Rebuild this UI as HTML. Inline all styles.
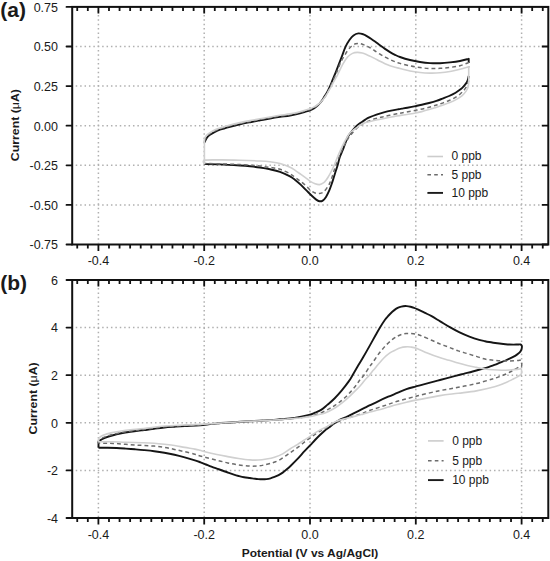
<!DOCTYPE html><html><head><meta charset="utf-8"><style>html,body{margin:0;padding:0;background:#fff;}svg{display:block;}text{font-family:"Liberation Sans",sans-serif;}</style></head><body>
<svg width="550" height="561" viewBox="0 0 550 561">
<line x1="98.40" y1="6.15" x2="98.40" y2="243.50" stroke="#b0b0b0" stroke-width="1.5" fill="none" stroke-dasharray="1.5 2.88"/>
<line x1="204.20" y1="6.15" x2="204.20" y2="243.50" stroke="#b0b0b0" stroke-width="1.5" fill="none" stroke-dasharray="1.5 2.88"/>
<line x1="310.00" y1="6.15" x2="310.00" y2="243.50" stroke="#b0b0b0" stroke-width="1.5" fill="none" stroke-dasharray="1.5 2.88"/>
<line x1="415.80" y1="6.15" x2="415.80" y2="243.50" stroke="#b0b0b0" stroke-width="1.5" fill="none" stroke-dasharray="1.5 2.88"/>
<line x1="521.60" y1="6.15" x2="521.60" y2="243.50" stroke="#b0b0b0" stroke-width="1.5" fill="none" stroke-dasharray="1.5 2.88"/>
<line x1="71.33" y1="46.50" x2="547.30" y2="46.50" stroke="#b0b0b0" stroke-width="1.5" fill="none" stroke-dasharray="1.5 2.903"/>
<line x1="71.33" y1="86.10" x2="547.30" y2="86.10" stroke="#b0b0b0" stroke-width="1.5" fill="none" stroke-dasharray="1.5 2.903"/>
<line x1="71.33" y1="125.70" x2="547.30" y2="125.70" stroke="#b0b0b0" stroke-width="1.5" fill="none" stroke-dasharray="1.5 2.903"/>
<line x1="71.33" y1="165.30" x2="547.30" y2="165.30" stroke="#b0b0b0" stroke-width="1.5" fill="none" stroke-dasharray="1.5 2.903"/>
<line x1="71.33" y1="204.90" x2="547.30" y2="204.90" stroke="#b0b0b0" stroke-width="1.5" fill="none" stroke-dasharray="1.5 2.903"/>
<path d="M204.40,142.50 C204.50,142.28 204.57,142.02 205.00,141.20 C205.43,140.38 206.17,138.67 207.00,137.60 C207.83,136.53 208.67,135.77 210.00,134.80 C211.33,133.83 213.33,132.65 215.00,131.80 C216.67,130.95 217.50,130.53 220.00,129.70 C222.50,128.87 226.67,127.70 230.00,126.80 C233.33,125.90 236.67,125.07 240.00,124.30 C243.33,123.53 246.67,122.87 250.00,122.20 C253.33,121.53 256.67,120.92 260.00,120.30 C263.33,119.68 266.67,119.07 270.00,118.50 C273.33,117.93 276.67,117.40 280.00,116.90 C283.33,116.40 286.67,116.08 290.00,115.50 C293.33,114.92 297.50,114.00 300.00,113.40 C302.50,112.80 303.33,112.40 305.00,111.90 C306.67,111.40 308.45,111.03 310.00,110.40 C311.55,109.77 313.00,108.95 314.30,108.10 C315.60,107.25 316.62,106.45 317.80,105.30 C318.98,104.15 320.30,102.65 321.40,101.20 C322.50,99.75 323.47,98.05 324.40,96.60 C325.33,95.15 326.13,94.07 327.00,92.50 C327.87,90.93 328.68,89.25 329.60,87.20 C330.52,85.15 331.52,82.60 332.50,80.20 C333.48,77.80 334.52,75.27 335.50,72.80 C336.48,70.33 337.37,68.07 338.40,65.40 C339.43,62.73 340.50,59.92 341.70,56.80 C342.90,53.68 344.28,49.53 345.60,46.70 C346.92,43.87 348.28,41.68 349.60,39.80 C350.92,37.92 352.03,36.47 353.50,35.40 C354.97,34.33 356.77,33.58 358.40,33.40 C360.03,33.22 361.83,33.82 363.30,34.30 C364.77,34.78 365.92,35.57 367.20,36.30 C368.48,37.03 369.70,37.83 371.00,38.70 C372.30,39.57 373.50,40.40 375.00,41.50 C376.50,42.60 378.33,44.07 380.00,45.30 C381.67,46.53 383.33,47.77 385.00,48.90 C386.67,50.03 388.33,51.12 390.00,52.10 C391.67,53.08 393.33,53.98 395.00,54.80 C396.67,55.62 397.50,56.13 400.00,57.00 C402.50,57.87 406.67,59.17 410.00,60.00 C413.33,60.83 416.67,61.48 420.00,62.00 C423.33,62.52 426.67,62.90 430.00,63.10 C433.33,63.30 436.67,63.32 440.00,63.20 C443.33,63.08 446.67,62.77 450.00,62.40 C453.33,62.03 456.88,61.60 460.00,61.00 C463.12,60.40 467.25,59.17 468.70,58.80 L468.70,58.80 C468.70,59.50 468.70,62.30 468.70,63.00 M468.70,76.00 C468.65,76.25 468.52,76.95 468.40,77.50 C468.28,78.05 468.27,78.52 468.00,79.30 C467.73,80.08 467.45,81.12 466.80,82.20 C466.15,83.28 465.08,84.65 464.10,85.80 C463.12,86.95 462.32,87.95 460.90,89.10 C459.48,90.25 457.57,91.55 455.60,92.70 C453.63,93.85 451.28,95.02 449.10,96.00 C446.92,96.98 444.62,97.78 442.50,98.60 C440.38,99.42 438.63,100.17 436.40,100.90 C434.17,101.63 431.53,102.35 429.10,103.00 C426.67,103.65 424.05,104.28 421.80,104.80 C419.55,105.32 418.02,105.62 415.60,106.10 C413.18,106.58 409.57,107.28 407.30,107.70 C405.03,108.12 403.48,108.35 402.00,108.60 C400.52,108.85 400.22,108.87 398.40,109.20 C396.58,109.53 393.53,110.07 391.10,110.60 C388.67,111.13 386.23,111.73 383.80,112.40 C381.37,113.07 378.92,113.77 376.50,114.60 C374.08,115.43 371.17,116.57 369.30,117.40 C367.43,118.23 366.60,118.80 365.30,119.60 C364.00,120.40 362.72,121.33 361.50,122.20 C360.28,123.07 359.08,123.90 358.00,124.80 C356.92,125.70 356.00,126.57 355.00,127.60 C354.00,128.63 353.17,129.52 352.00,131.00 C350.83,132.48 349.07,134.62 348.00,136.50 C346.93,138.38 346.47,140.05 345.60,142.30 C344.73,144.55 343.78,147.47 342.80,150.00 C341.82,152.53 340.55,155.00 339.70,157.50 C338.85,160.00 338.38,162.67 337.70,165.00 C337.02,167.33 336.28,169.33 335.60,171.50 C334.92,173.67 334.28,175.83 333.60,178.00 C332.92,180.17 332.22,182.43 331.50,184.50 C330.78,186.57 330.22,188.33 329.30,190.40 C328.38,192.47 327.10,195.20 326.00,196.90 C324.90,198.60 323.78,199.88 322.70,200.60 C321.62,201.32 320.58,201.37 319.50,201.20 C318.42,201.03 317.48,200.50 316.20,199.60 C314.92,198.70 313.43,197.33 311.80,195.80 C310.17,194.27 308.22,192.22 306.40,190.40 C304.58,188.58 302.72,186.60 300.90,184.90 C299.08,183.20 297.32,181.62 295.50,180.20 C293.68,178.78 292.58,177.78 290.00,176.40 C287.42,175.02 283.33,173.08 280.00,171.90 C276.67,170.72 273.33,170.03 270.00,169.30 C266.67,168.57 263.33,168.00 260.00,167.50 C256.67,167.00 253.33,166.63 250.00,166.30 C246.67,165.97 245.00,165.82 240.00,165.50 C235.00,165.18 225.93,164.63 220.00,164.40 C214.07,164.17 207.00,164.15 204.40,164.10" stroke="#151515" stroke-width="1.9" fill="none" stroke-linejoin="round"/><path d="M204.40,140.80 C204.50,140.60 204.57,140.37 205.00,139.60 C205.43,138.83 206.17,137.18 207.00,136.20 C207.83,135.22 208.67,134.60 210.00,133.70 C211.33,132.80 213.33,131.62 215.00,130.80 C216.67,129.98 217.50,129.62 220.00,128.80 C222.50,127.98 226.67,126.78 230.00,125.90 C233.33,125.02 236.67,124.25 240.00,123.50 C243.33,122.75 246.67,122.07 250.00,121.40 C253.33,120.73 256.67,120.12 260.00,119.50 C263.33,118.88 266.67,118.28 270.00,117.70 C273.33,117.12 276.67,116.52 280.00,116.00 C283.33,115.48 286.67,115.18 290.00,114.60 C293.33,114.02 296.67,113.33 300.00,112.50 C303.33,111.67 307.50,110.48 310.00,109.60 C312.50,108.72 313.33,108.23 315.00,107.20 C316.67,106.17 318.33,105.12 320.00,103.40 C321.67,101.68 323.58,99.05 325.00,96.90 C326.42,94.75 327.33,92.82 328.50,90.50 C329.67,88.18 330.83,85.53 332.00,83.00 C333.17,80.47 334.47,77.70 335.50,75.30 C336.53,72.90 337.33,70.75 338.20,68.60 C339.07,66.45 339.70,64.50 340.70,62.40 C341.70,60.30 343.05,57.97 344.20,56.00 C345.35,54.03 346.38,52.23 347.60,50.60 C348.82,48.97 350.18,47.33 351.50,46.20 C352.82,45.07 354.18,44.25 355.50,43.80 C356.82,43.35 358.10,43.37 359.40,43.50 C360.70,43.63 362.00,44.13 363.30,44.60 C364.60,45.07 365.92,45.67 367.20,46.30 C368.48,46.93 369.70,47.62 371.00,48.40 C372.30,49.18 373.50,50.03 375.00,51.00 C376.50,51.97 378.33,53.20 380.00,54.20 C381.67,55.20 383.33,56.10 385.00,57.00 C386.67,57.90 388.33,58.82 390.00,59.60 C391.67,60.38 393.33,61.07 395.00,61.70 C396.67,62.33 397.50,62.70 400.00,63.40 C402.50,64.10 406.67,65.20 410.00,65.90 C413.33,66.60 416.67,67.17 420.00,67.60 C423.33,68.03 426.67,68.38 430.00,68.50 C433.33,68.62 436.67,68.48 440.00,68.30 C443.33,68.12 446.67,67.83 450.00,67.40 C453.33,66.97 456.88,66.50 460.00,65.70 C463.12,64.90 467.25,63.12 468.70,62.60 L468.70,62.60 C468.70,63.42 468.70,66.68 468.70,67.50 M468.70,80.50 C468.60,80.83 468.42,81.62 468.10,82.50 C467.78,83.38 467.47,84.53 466.80,85.80 C466.13,87.07 465.20,88.73 464.10,90.10 C463.00,91.47 461.72,92.75 460.20,94.00 C458.68,95.25 456.85,96.52 455.00,97.60 C453.15,98.68 451.18,99.58 449.10,100.50 C447.02,101.42 444.47,102.38 442.50,103.10 C440.53,103.82 439.05,104.23 437.30,104.80 C435.55,105.37 434.10,105.90 432.00,106.50 C429.90,107.10 427.25,107.80 424.70,108.40 C422.15,109.00 419.48,109.53 416.70,110.10 C413.92,110.67 410.55,111.32 408.00,111.80 C405.45,112.28 403.25,112.67 401.40,113.00 C399.55,113.33 398.87,113.42 396.90,113.80 C394.93,114.18 391.78,114.83 389.60,115.30 C387.42,115.77 385.62,116.18 383.80,116.60 C381.98,117.02 380.52,117.33 378.70,117.80 C376.88,118.27 374.72,118.80 372.90,119.40 C371.08,120.00 369.28,120.77 367.80,121.40 C366.32,122.03 365.22,122.55 364.00,123.20 C362.78,123.85 361.67,124.50 360.50,125.30 C359.33,126.10 358.17,126.97 357.00,128.00 C355.83,129.03 354.67,130.20 353.50,131.50 C352.33,132.80 351.00,134.47 350.00,135.80 C349.00,137.13 348.33,138.13 347.50,139.50 C346.67,140.87 346.03,142.00 345.00,144.00 C343.97,146.00 342.38,149.08 341.30,151.50 C340.22,153.92 339.42,156.20 338.50,158.50 C337.58,160.80 336.58,163.13 335.80,165.30 C335.02,167.47 334.43,169.50 333.80,171.50 C333.17,173.50 332.63,175.47 332.00,177.30 C331.37,179.13 330.63,181.05 330.00,182.50 C329.37,183.95 329.23,184.45 328.20,186.00 C327.17,187.55 325.25,190.55 323.80,191.80 C322.35,193.05 320.95,193.30 319.50,193.50 C318.05,193.70 316.57,193.52 315.10,193.00 C313.63,192.48 312.15,191.53 310.70,190.40 C309.25,189.27 308.03,187.67 306.40,186.20 C304.77,184.73 302.72,183.03 300.90,181.60 C299.08,180.17 297.32,178.90 295.50,177.60 C293.68,176.30 292.58,175.18 290.00,173.80 C287.42,172.42 283.33,170.37 280.00,169.30 C276.67,168.23 273.33,167.93 270.00,167.40 C266.67,166.87 263.33,166.47 260.00,166.10 C256.67,165.73 253.33,165.45 250.00,165.20 C246.67,164.95 245.00,164.82 240.00,164.60 C235.00,164.38 225.93,164.08 220.00,163.90 C214.07,163.72 207.00,163.57 204.40,163.50" stroke="#6c6c6c" stroke-width="1.5" stroke-dasharray="3.9 3.0" fill="none" stroke-linejoin="round"/><path d="M204.40,164.20 C204.40,160.00 204.40,143.20 204.40,139.00 L204.40,139.00 C204.50,138.77 204.57,138.30 205.00,137.60 C205.43,136.90 206.17,135.63 207.00,134.80 C207.83,133.97 208.67,133.43 210.00,132.60 C211.33,131.77 213.33,130.57 215.00,129.80 C216.67,129.03 217.50,128.80 220.00,128.00 C222.50,127.20 226.67,125.90 230.00,125.00 C233.33,124.10 236.67,123.33 240.00,122.60 C243.33,121.87 246.67,121.23 250.00,120.60 C253.33,119.97 256.67,119.40 260.00,118.80 C263.33,118.20 266.67,117.58 270.00,117.00 C273.33,116.42 276.67,115.82 280.00,115.30 C283.33,114.78 286.67,114.50 290.00,113.90 C293.33,113.30 296.67,112.55 300.00,111.70 C303.33,110.85 307.50,109.68 310.00,108.80 C312.50,107.92 313.33,107.38 315.00,106.40 C316.67,105.42 318.33,104.47 320.00,102.90 C321.67,101.33 323.40,99.25 325.00,97.00 C326.60,94.75 328.10,92.03 329.60,89.40 C331.10,86.77 332.63,83.72 334.00,81.20 C335.37,78.68 336.35,77.12 337.80,74.30 C339.25,71.48 341.07,67.18 342.70,64.30 C344.33,61.42 345.97,58.82 347.60,57.00 C349.23,55.18 350.87,54.17 352.50,53.40 C354.13,52.63 355.77,52.45 357.40,52.40 C359.03,52.35 360.67,52.68 362.30,53.10 C363.93,53.52 365.75,54.32 367.20,54.90 C368.65,55.48 369.70,55.98 371.00,56.60 C372.30,57.22 373.50,57.82 375.00,58.60 C376.50,59.38 378.33,60.45 380.00,61.30 C381.67,62.15 383.33,62.97 385.00,63.70 C386.67,64.43 388.33,65.10 390.00,65.70 C391.67,66.30 393.33,66.83 395.00,67.30 C396.67,67.77 397.50,67.88 400.00,68.50 C402.50,69.12 406.67,70.33 410.00,71.00 C413.33,71.67 416.67,72.15 420.00,72.50 C423.33,72.85 426.67,73.05 430.00,73.10 C433.33,73.15 436.67,73.07 440.00,72.80 C443.33,72.53 446.67,72.10 450.00,71.50 C453.33,70.90 456.88,69.98 460.00,69.20 C463.12,68.42 467.25,67.20 468.70,66.80 L468.70,66.80 C468.70,69.42 468.70,79.88 468.70,82.50 L468.70,82.50 C468.60,83.27 468.53,85.67 468.10,87.10 C467.67,88.53 467.08,89.68 466.10,91.10 C465.12,92.52 463.95,94.13 462.20,95.60 C460.45,97.07 457.78,98.70 455.60,99.90 C453.42,101.10 451.28,101.92 449.10,102.80 C446.92,103.68 444.68,104.43 442.50,105.20 C440.32,105.97 438.23,106.67 436.00,107.40 C433.77,108.13 431.47,108.90 429.10,109.60 C426.73,110.30 424.23,111.00 421.80,111.60 C419.37,112.20 416.80,112.75 414.50,113.20 C412.20,113.65 410.08,113.98 408.00,114.30 C405.92,114.62 404.22,114.75 402.00,115.10 C399.78,115.45 397.12,115.95 394.70,116.40 C392.28,116.85 389.92,117.32 387.50,117.80 C385.08,118.28 382.63,118.80 380.20,119.30 C377.77,119.80 375.33,120.25 372.90,120.80 C370.47,121.35 367.75,121.85 365.60,122.60 C363.45,123.35 361.60,124.37 360.00,125.30 C358.40,126.23 357.25,127.28 356.00,128.20 C354.75,129.12 353.58,129.92 352.50,130.80 C351.42,131.68 350.75,131.80 349.50,133.50 C348.25,135.20 346.50,138.25 345.00,141.00 C343.50,143.75 341.80,147.20 340.50,150.00 C339.20,152.80 338.23,155.30 337.20,157.80 C336.17,160.30 335.30,162.72 334.30,165.00 C333.30,167.28 332.22,169.50 331.20,171.50 C330.18,173.50 329.07,175.55 328.20,177.00 C327.33,178.45 326.73,179.27 326.00,180.20 C325.27,181.13 324.88,181.87 323.80,182.60 C322.72,183.33 320.95,184.40 319.50,184.60 C318.05,184.80 316.57,184.30 315.10,183.80 C313.63,183.30 312.15,182.50 310.70,181.60 C309.25,180.70 308.03,179.60 306.40,178.40 C304.77,177.20 302.72,175.70 300.90,174.40 C299.08,173.10 297.32,171.80 295.50,170.60 C293.68,169.40 292.58,168.40 290.00,167.20 C287.42,166.00 283.33,164.30 280.00,163.40 C276.67,162.50 273.33,162.20 270.00,161.80 C266.67,161.40 265.00,161.27 260.00,161.00 C255.00,160.73 246.67,160.38 240.00,160.20 C233.33,160.02 225.93,159.88 220.00,159.90 C214.07,159.92 207.00,159.58 204.40,160.30 C201.80,161.02 204.40,163.55 204.40,164.20" stroke="#d0d0d0" stroke-width="1.6" fill="none" stroke-linejoin="round"/>
<rect x="72.20" y="6.90" width="476.10" height="237.60" fill="none" stroke="#111" stroke-width="2"/>
<path d="M77.24,6.90v4.00 M77.24,244.50v4.00 M87.82,6.90v4.00 M87.82,244.50v4.00 M98.40,6.90v6.50 M98.40,244.50v6.50 M108.98,6.90v4.00 M108.98,244.50v4.00 M119.56,6.90v4.00 M119.56,244.50v4.00 M130.14,6.90v4.00 M130.14,244.50v4.00 M140.72,6.90v4.00 M140.72,244.50v4.00 M151.30,6.90v4.00 M151.30,244.50v4.00 M161.88,6.90v4.00 M161.88,244.50v4.00 M172.46,6.90v4.00 M172.46,244.50v4.00 M183.04,6.90v4.00 M183.04,244.50v4.00 M193.62,6.90v4.00 M193.62,244.50v4.00 M204.20,6.90v6.50 M204.20,244.50v6.50 M214.78,6.90v4.00 M214.78,244.50v4.00 M225.36,6.90v4.00 M225.36,244.50v4.00 M235.94,6.90v4.00 M235.94,244.50v4.00 M246.52,6.90v4.00 M246.52,244.50v4.00 M257.10,6.90v4.00 M257.10,244.50v4.00 M267.68,6.90v4.00 M267.68,244.50v4.00 M278.26,6.90v4.00 M278.26,244.50v4.00 M288.84,6.90v4.00 M288.84,244.50v4.00 M299.42,6.90v4.00 M299.42,244.50v4.00 M310.00,6.90v6.50 M310.00,244.50v6.50 M320.58,6.90v4.00 M320.58,244.50v4.00 M331.16,6.90v4.00 M331.16,244.50v4.00 M341.74,6.90v4.00 M341.74,244.50v4.00 M352.32,6.90v4.00 M352.32,244.50v4.00 M362.90,6.90v4.00 M362.90,244.50v4.00 M373.48,6.90v4.00 M373.48,244.50v4.00 M384.06,6.90v4.00 M384.06,244.50v4.00 M394.64,6.90v4.00 M394.64,244.50v4.00 M405.22,6.90v4.00 M405.22,244.50v4.00 M415.80,6.90v6.50 M415.80,244.50v6.50 M426.38,6.90v4.00 M426.38,244.50v4.00 M436.96,6.90v4.00 M436.96,244.50v4.00 M447.54,6.90v4.00 M447.54,244.50v4.00 M458.12,6.90v4.00 M458.12,244.50v4.00 M468.70,6.90v4.00 M468.70,244.50v4.00 M479.28,6.90v4.00 M479.28,244.50v4.00 M489.86,6.90v4.00 M489.86,244.50v4.00 M500.44,6.90v4.00 M500.44,244.50v4.00 M511.02,6.90v4.00 M511.02,244.50v4.00 M521.60,6.90v6.50 M521.60,244.50v6.50 M532.18,6.90v4.00 M532.18,244.50v4.00 M542.76,6.90v4.00 M542.76,244.50v4.00 M548.30,6.90h-6.50 M548.30,46.50h-6.50 M548.30,86.10h-6.50 M548.30,125.70h-6.50 M548.30,165.30h-6.50 M548.30,204.90h-6.50 M548.30,244.50h-6.50" stroke="#111" stroke-width="1.8" fill="none"/>
<path d="M72.20,6.90h-5.70 M72.20,46.50h-5.70 M72.20,86.10h-5.70 M72.20,125.70h-5.70 M72.20,165.30h-5.70 M72.20,204.90h-5.70 M72.20,244.50h-5.70" stroke="#111" stroke-width="1.8" fill="none" stroke-linecap="round"/>
<text x="58" y="11.70" font-size="12.5" text-anchor="end" fill="#1a1a1a">0.75</text>
<text x="58" y="51.30" font-size="12.5" text-anchor="end" fill="#1a1a1a">0.50</text>
<text x="58" y="90.90" font-size="12.5" text-anchor="end" fill="#1a1a1a">0.25</text>
<text x="58" y="130.50" font-size="12.5" text-anchor="end" fill="#1a1a1a">0.00</text>
<text x="58" y="170.10" font-size="12.5" text-anchor="end" fill="#1a1a1a">-0.25</text>
<text x="58" y="209.70" font-size="12.5" text-anchor="end" fill="#1a1a1a">-0.50</text>
<text x="58" y="249.30" font-size="12.5" text-anchor="end" fill="#1a1a1a">-0.75</text>
<text x="98.40" y="265.00" font-size="12.5" text-anchor="middle" fill="#1a1a1a">-0.4</text>
<text x="204.20" y="265.00" font-size="12.5" text-anchor="middle" fill="#1a1a1a">-0.2</text>
<text x="310.00" y="265.00" font-size="12.5" text-anchor="middle" fill="#1a1a1a">0.0</text>
<text x="415.80" y="265.00" font-size="12.5" text-anchor="middle" fill="#1a1a1a">0.2</text>
<text x="521.60" y="265.00" font-size="12.5" text-anchor="middle" fill="#1a1a1a">0.4</text>
<text transform="translate(19.40,125.10) rotate(-90) scale(1.045,1)" font-size="11.8" font-weight="bold" text-anchor="middle" fill="#1a1a1a">Current (<tspan font-weight="normal">&#956;</tspan>A)</text>
<text x="0.3" y="16.70" font-size="21" font-weight="bold" fill="#1a1a1a">(a)</text>
<line x1="427.40" y1="156.50" x2="443.00" y2="156.50" stroke="#cccccc" stroke-width="1.6"/>
<line x1="427.40" y1="174.80" x2="443.00" y2="174.80" stroke="#6c6c6c" stroke-width="1.5" stroke-dasharray="3.6 3.2"/>
<line x1="427.40" y1="192.90" x2="443.00" y2="192.90" stroke="#1a1a1a" stroke-width="1.9"/>
<text x="451.50" y="160.40" font-size="12" fill="#1a1a1a">0 ppb</text>
<text x="451.50" y="178.70" font-size="12" fill="#1a1a1a">5 ppb</text>
<text x="451.50" y="196.80" font-size="12" fill="#1a1a1a">10 ppb</text>
<line x1="98.40" y1="279.25" x2="98.40" y2="517.00" stroke="#b0b0b0" stroke-width="1.5" fill="none" stroke-dasharray="1.5 2.88"/>
<line x1="204.20" y1="279.25" x2="204.20" y2="517.00" stroke="#b0b0b0" stroke-width="1.5" fill="none" stroke-dasharray="1.5 2.88"/>
<line x1="310.00" y1="279.25" x2="310.00" y2="517.00" stroke="#b0b0b0" stroke-width="1.5" fill="none" stroke-dasharray="1.5 2.88"/>
<line x1="415.80" y1="279.25" x2="415.80" y2="517.00" stroke="#b0b0b0" stroke-width="1.5" fill="none" stroke-dasharray="1.5 2.88"/>
<line x1="521.60" y1="279.25" x2="521.60" y2="517.00" stroke="#b0b0b0" stroke-width="1.5" fill="none" stroke-dasharray="1.5 2.88"/>
<line x1="71.33" y1="327.60" x2="547.30" y2="327.60" stroke="#b0b0b0" stroke-width="1.5" fill="none" stroke-dasharray="1.5 2.903"/>
<line x1="71.33" y1="375.20" x2="547.30" y2="375.20" stroke="#b0b0b0" stroke-width="1.5" fill="none" stroke-dasharray="1.5 2.903"/>
<line x1="71.33" y1="422.80" x2="547.30" y2="422.80" stroke="#b0b0b0" stroke-width="1.5" fill="none" stroke-dasharray="1.5 2.903"/>
<line x1="71.33" y1="470.40" x2="547.30" y2="470.40" stroke="#b0b0b0" stroke-width="1.5" fill="none" stroke-dasharray="1.5 2.903"/>
<path d="M98.50,447.70 C98.50,446.67 98.50,442.53 98.50,441.50 L98.50,441.50 C98.97,441.18 100.23,440.20 101.30,439.60 C102.37,439.00 103.08,438.58 104.90,437.90 C106.72,437.22 109.47,436.27 112.20,435.50 C114.93,434.73 118.27,433.93 121.30,433.30 C124.33,432.67 127.37,432.17 130.40,431.70 C133.43,431.23 137.23,430.77 139.50,430.50 C141.77,430.23 141.55,430.40 144.00,430.10 C146.45,429.80 150.80,429.13 154.20,428.70 C157.60,428.27 161.02,427.83 164.40,427.50 C167.78,427.17 171.12,426.95 174.50,426.70 C177.88,426.45 180.45,426.25 184.70,426.00 C188.95,425.75 194.87,425.60 200.00,425.20 C205.13,424.80 208.68,424.17 215.50,423.60 C222.32,423.03 232.42,422.33 240.90,421.80 C249.38,421.27 259.88,420.82 266.40,420.40 C272.92,419.98 275.32,419.70 280.00,419.30 C284.68,418.90 289.65,418.73 294.50,418.00 C299.35,417.27 305.68,415.78 309.10,414.90 C312.52,414.02 312.93,413.58 315.00,412.70 C317.07,411.82 319.45,410.90 321.50,409.60 C323.55,408.30 325.13,406.75 327.30,404.90 C329.47,403.05 332.08,400.92 334.50,398.50 C336.92,396.08 339.37,393.33 341.80,390.40 C344.23,387.47 347.33,383.38 349.10,380.90 C350.87,378.42 350.82,378.18 352.40,375.50 C353.98,372.82 356.72,368.00 358.60,364.80 C360.48,361.60 361.88,359.42 363.70,356.30 C365.52,353.18 367.55,349.57 369.50,346.10 C371.45,342.63 373.70,338.53 375.40,335.50 C377.10,332.47 378.10,330.53 379.70,327.90 C381.30,325.27 383.52,321.77 385.00,319.70 C386.48,317.63 387.38,316.82 388.60,315.50 C389.82,314.18 391.08,312.90 392.30,311.80 C393.52,310.70 394.70,309.68 395.90,308.90 C397.10,308.12 398.28,307.55 399.50,307.10 C400.72,306.65 401.98,306.37 403.20,306.20 C404.42,306.03 405.58,306.02 406.80,306.10 C408.02,306.18 409.28,306.42 410.50,306.70 C411.72,306.98 412.90,307.37 414.10,307.80 C415.30,308.23 416.48,308.75 417.70,309.30 C418.92,309.85 420.18,310.50 421.40,311.10 C422.62,311.70 423.30,312.05 425.00,312.90 C426.70,313.75 429.07,314.78 431.60,316.20 C434.13,317.62 437.17,319.57 440.20,321.40 C443.23,323.23 446.57,325.37 449.80,327.20 C453.03,329.03 456.33,330.83 459.60,332.40 C462.87,333.97 466.13,335.35 469.40,336.60 C472.67,337.85 476.60,339.13 479.20,339.90 C481.80,340.67 483.35,340.85 485.00,341.20 C486.65,341.55 487.73,341.75 489.10,342.00 C490.47,342.25 491.83,342.48 493.20,342.70 C494.57,342.92 495.93,343.12 497.30,343.30 C498.67,343.48 500.03,343.65 501.40,343.80 C502.77,343.95 504.15,344.08 505.50,344.20 C506.85,344.32 508.15,344.43 509.50,344.50 C510.85,344.57 512.23,344.60 513.60,344.60 C514.97,344.60 516.53,344.52 517.70,344.50 C518.87,344.48 519.92,344.28 520.60,344.50 C521.28,344.72 521.60,345.20 521.80,345.80 C522.00,346.40 521.93,347.32 521.80,348.10 C521.67,348.88 521.40,349.75 521.00,350.50 C520.60,351.25 520.08,351.92 519.40,352.60 C518.72,353.28 517.87,353.92 516.90,354.60 C515.93,355.28 514.83,356.02 513.60,356.70 C512.37,357.38 510.85,358.07 509.50,358.70 C508.15,359.33 506.85,359.92 505.50,360.50 C504.15,361.08 502.77,361.65 501.40,362.20 C500.03,362.75 498.67,363.28 497.30,363.80 C495.93,364.32 494.57,364.80 493.20,365.30 C491.83,365.80 490.47,366.33 489.10,366.80 C487.73,367.27 487.73,367.32 485.00,368.10 C482.27,368.88 476.27,370.55 472.70,371.50 C469.13,372.45 466.63,373.02 463.60,373.80 C460.57,374.58 458.43,375.17 454.50,376.20 C450.57,377.23 444.53,378.80 440.00,380.00 C435.47,381.20 430.63,382.52 427.30,383.40 C423.97,384.28 421.97,384.77 420.00,385.30 C418.03,385.83 417.77,385.97 415.50,386.60 C413.23,387.23 409.43,388.05 406.40,389.10 C403.37,390.15 400.33,391.63 397.30,392.90 C394.27,394.17 391.23,395.38 388.20,396.70 C385.17,398.02 382.13,399.38 379.10,400.80 C376.07,402.22 372.35,404.05 370.00,405.20 C367.65,406.35 366.80,406.80 365.00,407.70 C363.20,408.60 361.02,409.68 359.20,410.60 C357.38,411.52 355.92,412.28 354.10,413.20 C352.28,414.12 350.12,415.25 348.30,416.10 C346.48,416.95 344.90,417.52 343.20,418.30 C341.50,419.08 339.68,419.90 338.10,420.80 C336.52,421.70 335.17,422.63 333.70,423.70 C332.23,424.77 330.77,426.07 329.30,427.20 C327.83,428.33 326.37,429.28 324.90,430.50 C323.43,431.72 322.07,433.00 320.50,434.50 C318.93,436.00 317.25,437.68 315.50,439.50 C313.75,441.32 311.83,443.45 310.00,445.40 C308.17,447.35 306.62,448.90 304.50,451.20 C302.38,453.50 299.55,456.82 297.30,459.20 C295.05,461.58 292.75,463.82 291.00,465.50 C289.25,467.18 288.18,468.12 286.80,469.30 C285.42,470.48 284.07,471.63 282.70,472.60 C281.33,473.57 279.97,474.38 278.60,475.10 C277.23,475.82 275.85,476.37 274.50,476.90 C273.15,477.43 271.85,477.93 270.50,478.30 C269.15,478.67 267.77,478.93 266.40,479.10 C265.03,479.27 263.67,479.30 262.30,479.30 C260.93,479.30 259.57,479.22 258.20,479.10 C256.83,478.98 255.47,478.78 254.10,478.60 C252.73,478.42 251.67,478.22 250.00,478.00 C248.33,477.78 246.00,477.63 244.10,477.30 C242.20,476.97 240.42,476.48 238.60,476.00 C236.78,475.52 235.02,474.98 233.20,474.40 C231.38,473.82 229.52,473.15 227.70,472.50 C225.88,471.85 224.12,471.15 222.30,470.50 C220.48,469.85 218.62,469.23 216.80,468.60 C214.98,467.97 213.22,467.38 211.40,466.70 C209.58,466.02 207.72,465.23 205.90,464.50 C204.08,463.77 202.33,463.00 200.50,462.30 C198.67,461.60 197.53,461.13 194.90,460.30 C192.27,459.47 188.10,458.23 184.70,457.30 C181.30,456.37 177.88,455.47 174.50,454.70 C171.12,453.93 167.78,453.28 164.40,452.70 C161.02,452.12 157.60,451.63 154.20,451.20 C150.80,450.77 147.22,450.42 144.00,450.10 C140.78,449.78 137.93,449.55 134.90,449.30 C131.87,449.05 128.83,448.82 125.80,448.60 C122.77,448.38 119.73,448.15 116.70,448.00 C113.67,447.85 110.63,447.75 107.60,447.70 C104.57,447.65 100.02,447.70 98.50,447.70" stroke="#151515" stroke-width="1.9" fill="none" stroke-linejoin="round"/><path d="M98.50,443.20 C98.50,442.83 98.50,441.37 98.50,441.00 L98.50,441.00 C98.97,440.60 100.23,439.28 101.30,438.60 C102.37,437.92 103.08,437.58 104.90,436.90 C106.72,436.22 109.47,435.23 112.20,434.50 C114.93,433.77 118.27,433.08 121.30,432.50 C124.33,431.92 126.62,431.50 130.40,431.00 C134.18,430.50 138.33,430.20 144.00,429.50 C149.67,428.80 157.62,427.47 164.40,426.80 C171.18,426.13 178.77,425.83 184.70,425.50 C190.63,425.17 190.63,425.42 200.00,424.80 C209.37,424.18 229.83,422.53 240.90,421.80 C251.97,421.07 257.47,420.98 266.40,420.40 C275.33,419.82 287.38,418.98 294.50,418.30 C301.62,417.62 304.85,417.15 309.10,416.30 C313.35,415.45 316.60,414.48 320.00,413.20 C323.40,411.92 326.95,409.93 329.50,408.60 C332.05,407.27 333.37,406.48 335.30,405.20 C337.23,403.92 339.23,402.40 341.10,400.90 C342.97,399.40 344.75,397.90 346.50,396.20 C348.25,394.50 349.95,392.58 351.60,390.70 C353.25,388.82 355.07,386.63 356.40,384.90 C357.73,383.17 358.32,381.95 359.60,380.30 C360.88,378.65 362.45,377.25 364.10,375.00 C365.75,372.75 368.05,368.88 369.50,366.80 C370.95,364.72 371.47,364.38 372.80,362.50 C374.13,360.62 375.92,357.68 377.50,355.50 C379.08,353.32 380.65,351.33 382.30,349.40 C383.95,347.47 385.65,345.60 387.40,343.90 C389.15,342.20 391.13,340.48 392.80,339.20 C394.47,337.92 395.92,337.00 397.40,336.20 C398.88,335.40 400.25,334.85 401.70,334.40 C403.15,333.95 404.63,333.65 406.10,333.50 C407.57,333.35 408.93,333.42 410.50,333.50 C412.07,333.58 413.82,333.67 415.50,334.00 C417.18,334.33 417.92,334.47 420.60,335.50 C423.28,336.53 428.30,338.77 431.60,340.20 C434.90,341.63 437.48,342.92 440.40,344.10 C443.32,345.28 446.13,346.17 449.10,347.30 C452.07,348.43 455.17,349.85 458.20,350.90 C461.23,351.95 464.27,352.68 467.30,353.60 C470.33,354.52 473.45,355.48 476.40,356.40 C479.35,357.32 482.20,358.47 485.00,359.10 C487.80,359.73 490.47,359.92 493.20,360.20 C495.93,360.48 498.68,360.68 501.40,360.80 C504.12,360.92 506.78,360.95 509.50,360.90 C512.22,360.85 515.85,360.62 517.70,360.50 C519.55,360.38 519.97,360.03 520.60,360.20 C521.23,360.37 521.35,360.45 521.50,361.50 C521.65,362.55 521.98,365.55 521.50,366.50 C521.02,367.45 520.18,366.45 518.60,367.20 C517.02,367.95 514.18,369.82 512.00,371.00 C509.82,372.18 507.82,373.28 505.50,374.30 C503.18,375.32 500.43,376.28 498.10,377.10 C495.77,377.92 495.12,378.12 491.50,379.20 C487.88,380.28 481.95,382.25 476.40,383.60 C470.85,384.95 464.27,386.13 458.20,387.30 C452.13,388.47 446.37,389.28 440.00,390.60 C433.63,391.92 424.08,394.23 420.00,395.20 C415.92,396.17 417.77,395.80 415.50,396.40 C413.23,397.00 409.43,397.98 406.40,398.80 C403.37,399.62 400.33,400.37 397.30,401.30 C394.27,402.23 391.23,403.38 388.20,404.40 C385.17,405.42 382.13,406.42 379.10,407.40 C376.07,408.38 372.72,409.33 370.00,410.30 C367.28,411.27 365.08,412.35 362.80,413.20 C360.52,414.05 358.35,414.73 356.30,415.40 C354.25,416.07 352.62,416.50 350.50,417.20 C348.38,417.90 346.02,418.70 343.60,419.60 C341.18,420.50 338.35,421.60 336.00,422.60 C333.65,423.60 331.72,424.42 329.50,425.60 C327.28,426.78 324.80,428.47 322.70,429.70 C320.60,430.93 318.90,431.72 316.90,433.00 C314.90,434.28 312.63,436.00 310.70,437.40 C308.77,438.80 307.17,439.95 305.30,441.40 C303.43,442.85 301.57,444.53 299.50,446.10 C297.43,447.67 295.02,449.30 292.90,450.80 C290.78,452.30 289.18,453.48 286.80,455.10 C284.42,456.72 281.32,459.12 278.60,460.50 C275.88,461.88 272.95,462.65 270.50,463.40 C268.05,464.15 265.95,464.58 263.90,465.00 C261.85,465.42 260.52,465.72 258.20,465.90 C255.88,466.08 253.27,466.27 250.00,466.10 C246.73,465.93 242.32,465.43 238.60,464.90 C234.88,464.37 231.33,463.68 227.70,462.90 C224.07,462.12 220.43,461.10 216.80,460.20 C213.17,459.30 208.98,458.28 205.90,457.50 C202.82,456.72 200.13,456.05 198.30,455.50 C196.47,454.95 197.17,454.83 194.90,454.20 C192.63,453.57 188.10,452.50 184.70,451.70 C181.30,450.90 177.88,450.12 174.50,449.40 C171.12,448.68 167.78,447.95 164.40,447.40 C161.02,446.85 157.60,446.42 154.20,446.10 C150.80,445.78 147.22,445.68 144.00,445.50 C140.78,445.32 137.93,445.20 134.90,445.00 C131.87,444.80 128.83,444.53 125.80,444.30 C122.77,444.07 119.73,443.78 116.70,443.60 C113.67,443.42 110.63,443.27 107.60,443.20 C104.57,443.13 100.02,443.20 98.50,443.20" stroke="#6c6c6c" stroke-width="1.5" stroke-dasharray="3.9 3.0" fill="none" stroke-linejoin="round"/><path d="M98.30,441.80 C98.30,441.50 98.30,440.30 98.30,440.00 L98.30,440.00 C98.50,439.60 98.70,438.38 99.50,437.60 C100.30,436.82 100.98,436.13 103.10,435.30 C105.22,434.47 109.17,433.32 112.20,432.60 C115.23,431.88 118.27,431.47 121.30,431.00 C124.33,430.53 126.62,430.22 130.40,429.80 C134.18,429.38 138.33,429.13 144.00,428.50 C149.67,427.87 157.62,426.58 164.40,426.00 C171.18,425.42 178.77,425.27 184.70,425.00 C190.63,424.73 190.63,424.93 200.00,424.40 C209.37,423.87 229.83,422.45 240.90,421.80 C251.97,421.15 257.47,421.05 266.40,420.50 C275.33,419.95 287.38,419.12 294.50,418.50 C301.62,417.88 305.18,417.42 309.10,416.80 C313.02,416.18 315.35,415.45 318.00,414.80 C320.65,414.15 322.25,414.00 325.00,412.90 C327.75,411.80 331.70,409.83 334.50,408.20 C337.30,406.57 339.37,404.98 341.80,403.10 C344.23,401.22 346.92,398.90 349.10,396.90 C351.28,394.90 353.08,392.92 354.90,391.10 C356.72,389.28 358.40,387.75 360.00,386.00 C361.60,384.25 362.92,382.43 364.50,380.60 C366.08,378.77 368.00,376.75 369.50,375.00 C371.00,373.25 372.03,371.88 373.50,370.10 C374.97,368.32 376.53,366.35 378.30,364.30 C380.07,362.25 382.17,359.70 384.10,357.80 C386.03,355.90 388.08,354.17 389.90,352.90 C391.72,351.63 393.22,351.05 395.00,350.20 C396.78,349.35 398.85,348.35 400.60,347.80 C402.35,347.25 403.85,347.03 405.50,346.90 C407.15,346.77 408.68,346.78 410.50,347.00 C412.32,347.22 413.60,347.20 416.40,348.20 C419.20,349.20 423.67,351.52 427.30,353.00 C430.93,354.48 434.57,355.88 438.20,357.10 C441.83,358.32 445.77,359.30 449.10,360.30 C452.43,361.30 455.17,362.23 458.20,363.10 C461.23,363.97 464.27,364.78 467.30,365.50 C470.33,366.22 473.45,366.82 476.40,367.40 C479.35,367.98 482.20,368.60 485.00,369.00 C487.80,369.40 490.47,369.60 493.20,369.80 C495.93,370.00 498.68,370.17 501.40,370.20 C504.12,370.23 506.78,370.13 509.50,370.00 C512.22,369.87 515.85,369.60 517.70,369.40 C519.55,369.20 519.97,368.70 520.60,368.80 C521.23,368.90 521.35,369.22 521.50,370.00 C521.65,370.78 521.85,372.58 521.50,373.50 C521.15,374.42 520.30,374.82 519.40,375.50 C518.50,376.18 517.33,376.92 516.10,377.60 C514.87,378.28 514.08,378.60 512.00,379.60 C509.92,380.60 506.52,382.40 503.60,383.60 C500.68,384.80 499.03,385.58 494.50,386.80 C489.97,388.02 482.45,389.82 476.40,390.90 C470.35,391.98 464.27,392.52 458.20,393.30 C452.13,394.08 446.37,394.58 440.00,395.60 C433.63,396.62 425.60,398.30 420.00,399.40 C414.40,400.50 410.18,401.35 406.40,402.20 C402.62,403.05 400.33,403.68 397.30,404.50 C394.27,405.32 391.23,406.22 388.20,407.10 C385.17,407.98 382.13,408.98 379.10,409.80 C376.07,410.62 372.35,411.40 370.00,412.00 C367.65,412.60 366.43,412.97 365.00,413.40 C363.57,413.83 363.22,414.08 361.40,414.60 C359.58,415.12 356.53,415.88 354.10,416.50 C351.67,417.12 349.23,417.70 346.80,418.30 C344.37,418.90 341.92,419.25 339.50,420.10 C337.08,420.95 334.38,422.32 332.30,423.40 C330.22,424.48 328.80,425.62 327.00,426.60 C325.20,427.58 323.42,428.30 321.50,429.30 C319.58,430.30 317.42,431.43 315.50,432.60 C313.58,433.77 311.83,435.08 310.00,436.30 C308.17,437.52 306.62,438.52 304.50,439.90 C302.38,441.28 299.72,443.08 297.30,444.60 C294.88,446.12 292.43,447.45 290.00,449.00 C287.57,450.55 285.28,452.53 282.70,453.90 C280.12,455.27 277.22,456.35 274.50,457.20 C271.78,458.05 269.12,458.53 266.40,459.00 C263.68,459.47 260.93,459.85 258.20,460.00 C255.47,460.15 253.27,460.15 250.00,459.90 C246.73,459.65 242.32,459.05 238.60,458.50 C234.88,457.95 231.33,457.27 227.70,456.60 C224.07,455.93 220.43,455.27 216.80,454.50 C213.17,453.73 208.70,452.70 205.90,452.00 C203.10,451.30 201.83,450.78 200.00,450.30 C198.17,449.82 197.45,449.58 194.90,449.10 C192.35,448.62 188.10,448.00 184.70,447.40 C181.30,446.80 177.88,446.02 174.50,445.50 C171.12,444.98 167.78,444.67 164.40,444.30 C161.02,443.93 157.60,443.57 154.20,443.30 C150.80,443.03 148.73,442.87 144.00,442.70 C139.27,442.53 131.10,442.45 125.80,442.30 C120.50,442.15 116.78,441.88 112.20,441.80 C107.62,441.72 100.62,441.80 98.30,441.80" stroke="#d0d0d0" stroke-width="1.6" fill="none" stroke-linejoin="round"/>
<rect x="72.20" y="280.00" width="476.10" height="238.00" fill="none" stroke="#111" stroke-width="2"/>
<path d="M77.24,280.00v4.00 M77.24,518.00v4.00 M87.82,280.00v4.00 M87.82,518.00v4.00 M98.40,280.00v6.50 M98.40,518.00v6.50 M108.98,280.00v4.00 M108.98,518.00v4.00 M119.56,280.00v4.00 M119.56,518.00v4.00 M130.14,280.00v4.00 M130.14,518.00v4.00 M140.72,280.00v4.00 M140.72,518.00v4.00 M151.30,280.00v4.00 M151.30,518.00v4.00 M161.88,280.00v4.00 M161.88,518.00v4.00 M172.46,280.00v4.00 M172.46,518.00v4.00 M183.04,280.00v4.00 M183.04,518.00v4.00 M193.62,280.00v4.00 M193.62,518.00v4.00 M204.20,280.00v6.50 M204.20,518.00v6.50 M214.78,280.00v4.00 M214.78,518.00v4.00 M225.36,280.00v4.00 M225.36,518.00v4.00 M235.94,280.00v4.00 M235.94,518.00v4.00 M246.52,280.00v4.00 M246.52,518.00v4.00 M257.10,280.00v4.00 M257.10,518.00v4.00 M267.68,280.00v4.00 M267.68,518.00v4.00 M278.26,280.00v4.00 M278.26,518.00v4.00 M288.84,280.00v4.00 M288.84,518.00v4.00 M299.42,280.00v4.00 M299.42,518.00v4.00 M310.00,280.00v6.50 M310.00,518.00v6.50 M320.58,280.00v4.00 M320.58,518.00v4.00 M331.16,280.00v4.00 M331.16,518.00v4.00 M341.74,280.00v4.00 M341.74,518.00v4.00 M352.32,280.00v4.00 M352.32,518.00v4.00 M362.90,280.00v4.00 M362.90,518.00v4.00 M373.48,280.00v4.00 M373.48,518.00v4.00 M384.06,280.00v4.00 M384.06,518.00v4.00 M394.64,280.00v4.00 M394.64,518.00v4.00 M405.22,280.00v4.00 M405.22,518.00v4.00 M415.80,280.00v6.50 M415.80,518.00v6.50 M426.38,280.00v4.00 M426.38,518.00v4.00 M436.96,280.00v4.00 M436.96,518.00v4.00 M447.54,280.00v4.00 M447.54,518.00v4.00 M458.12,280.00v4.00 M458.12,518.00v4.00 M468.70,280.00v4.00 M468.70,518.00v4.00 M479.28,280.00v4.00 M479.28,518.00v4.00 M489.86,280.00v4.00 M489.86,518.00v4.00 M500.44,280.00v4.00 M500.44,518.00v4.00 M511.02,280.00v4.00 M511.02,518.00v4.00 M521.60,280.00v6.50 M521.60,518.00v6.50 M532.18,280.00v4.00 M532.18,518.00v4.00 M542.76,280.00v4.00 M542.76,518.00v4.00 M548.30,280.00h-6.50 M548.30,327.60h-6.50 M548.30,375.20h-6.50 M548.30,422.80h-6.50 M548.30,470.40h-6.50 M548.30,518.00h-6.50" stroke="#111" stroke-width="1.8" fill="none"/>
<path d="M72.20,280.00h-5.70 M72.20,327.60h-5.70 M72.20,375.20h-5.70 M72.20,422.80h-5.70 M72.20,470.40h-5.70 M72.20,518.00h-5.70" stroke="#111" stroke-width="1.8" fill="none" stroke-linecap="round"/>
<text x="58" y="284.80" font-size="12.5" text-anchor="end" fill="#1a1a1a">6</text>
<text x="58" y="332.40" font-size="12.5" text-anchor="end" fill="#1a1a1a">4</text>
<text x="58" y="380.00" font-size="12.5" text-anchor="end" fill="#1a1a1a">2</text>
<text x="58" y="427.60" font-size="12.5" text-anchor="end" fill="#1a1a1a">0</text>
<text x="58" y="475.20" font-size="12.5" text-anchor="end" fill="#1a1a1a">-2</text>
<text x="58" y="522.80" font-size="12.5" text-anchor="end" fill="#1a1a1a">-4</text>
<text x="98.40" y="538.50" font-size="12.5" text-anchor="middle" fill="#1a1a1a">-0.4</text>
<text x="204.20" y="538.50" font-size="12.5" text-anchor="middle" fill="#1a1a1a">-0.2</text>
<text x="310.00" y="538.50" font-size="12.5" text-anchor="middle" fill="#1a1a1a">0.0</text>
<text x="415.80" y="538.50" font-size="12.5" text-anchor="middle" fill="#1a1a1a">0.2</text>
<text x="521.60" y="538.50" font-size="12.5" text-anchor="middle" fill="#1a1a1a">0.4</text>
<text transform="translate(37.10,398.40) rotate(-90) scale(1.045,1)" font-size="11.8" font-weight="bold" text-anchor="middle" fill="#1a1a1a">Current (<tspan font-weight="normal">&#956;</tspan>A)</text>
<text x="0.3" y="289.60" font-size="21" font-weight="bold" fill="#1a1a1a">(b)</text>
<line x1="428.00" y1="440.90" x2="443.60" y2="440.90" stroke="#cccccc" stroke-width="1.6"/>
<line x1="428.00" y1="460.70" x2="443.60" y2="460.70" stroke="#6c6c6c" stroke-width="1.5" stroke-dasharray="3.6 3.2"/>
<line x1="428.00" y1="480.10" x2="443.60" y2="480.10" stroke="#1a1a1a" stroke-width="1.9"/>
<text x="452.20" y="444.80" font-size="12" fill="#1a1a1a">0 ppb</text>
<text x="452.20" y="464.60" font-size="12" fill="#1a1a1a">5 ppb</text>
<text x="452.20" y="484.00" font-size="12" fill="#1a1a1a">10 ppb</text>
<text transform="translate(310,557.3) scale(1.09,1)" font-size="11" font-weight="bold" text-anchor="middle" fill="#1a1a1a">Potential (V vs Ag/AgCl)</text>
</svg></body></html>
